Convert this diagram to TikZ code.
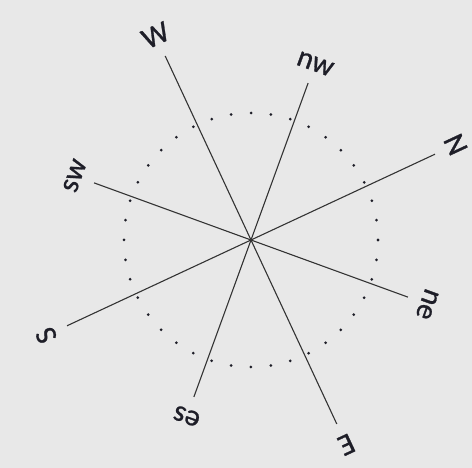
\documentclass[tikz,border=0pt]{standalone}
\usepackage{fontspec}
\setmainfont{Carlito}[FakeBold=0.9]
\usetikzlibrary{calc}
\definecolor{bggray}{HTML}{E8E8E8}
\definecolor{inkdark}{HTML}{1E1E28}
\definecolor{spokegray}{HTML}{333333}

\begin{document}
\begin{tikzpicture}[x=1pt,y=1pt,
  every node/.style={font=\fontsize{30}{33}\selectfont,text=inkdark,inner sep=0pt},
  spoke/.style={spokegray,line width=1.1pt},
  dotring/.style={inkdark,line width=3pt,line cap=round,dash pattern=on 0pt off 19.95pt}]
\fill[bggray] (0,0) rectangle (472,468);
\useasboundingbox (0,0) rectangle (472,468);
\coordinate (c) at (251,228);
% dotted ring round the centre
\draw[dotring] (c) circle (127);
% spokes and their labels
\foreach \a/\r/\t/\n in {25/203/N/n, -20/167/ne/ne, -65/203/E/e, -110/167/es/es,
                        -155/203/S/s, 160/167/sw/sw, 115/203/W/w, 70/167/nw/nw}
{
  \coordinate (end-\n) at ($(c)+(\a:\r)$);
  \draw[spoke] (c) -- (end-\n);
  \node[anchor=south,rotate=\a-90] (lbl-\n) at ($(c)+(\a:\r+13)$) {\t};
}
\end{tikzpicture}
\end{document}
